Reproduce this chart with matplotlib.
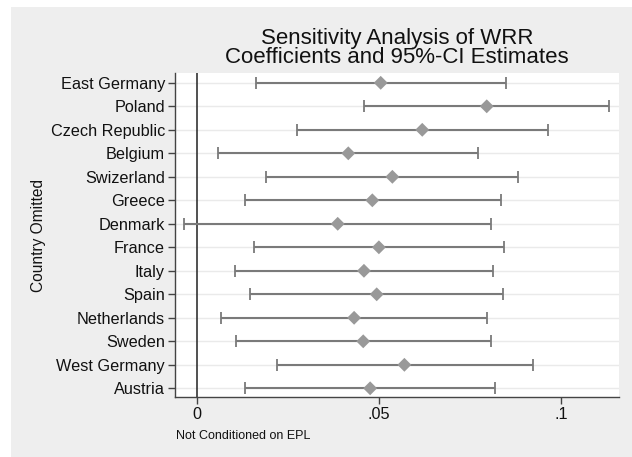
import matplotlib
matplotlib.use("Agg")
import matplotlib.pyplot as plt
from matplotlib.patches import Rectangle

countries = ["East Germany", "Poland", "Czech Republic", "Belgium", "Swizerland",
             "Greece", "Denmark", "France", "Italy", "Spain", "Netherlands",
             "Sweden", "West Germany", "Austria"]
coef = [0.0505, 0.0796, 0.0619, 0.0416, 0.0537, 0.0482, 0.0387, 0.0500,
        0.0459, 0.0494, 0.0432, 0.0457, 0.0570, 0.0476]
ci_low = [0.0162, 0.0460, 0.0275, 0.0058, 0.0190, 0.0133, -0.0034, 0.0158,
          0.0105, 0.0147, 0.0067, 0.0109, 0.0221, 0.0132]
ci_high = [0.0849, 0.1132, 0.0965, 0.0773, 0.0883, 0.0834, 0.0808, 0.0844,
           0.0814, 0.0842, 0.0798, 0.0808, 0.0922, 0.0820]
xticks = [0, 0.05, 0.1]
xticklabels = ["0", ".05", ".1"]

plt.rcParams['font.family'] = ['Liberation Sans', 'DejaVu Sans']

W, H = 632, 457
fig = plt.figure(figsize=(W / 100, H / 100), dpi=100, facecolor="white")
fig.patches.append(Rectangle((11 / W, 0), 1 - 11 / W, 1 - 7 / H,
                             transform=fig.transFigure, facecolor="#eeeeee",
                             edgecolor="none", zorder=-10))

ax = fig.add_axes([174.7 / W, 1 - 397.3 / H, (619 - 174.7) / W, (397.3 - 72.7) / H])
ax.set_zorder(5)
ax.set_facecolor("white")

n = len(countries)
ys = [n - i for i in range(n)]

for y in ys:
    ax.axhline(y, color="#eaeaea", lw=1.0, zorder=1)

ax.axvline(0, color="#222222", lw=1.1, zorder=2)

ax.errorbar(coef, ys, xerr=[[c - l for c, l in zip(coef, ci_low)],
                            [h - c for c, h in zip(coef, ci_high)]],
            fmt="none", ecolor="#7a7a7a", elinewidth=1.5, capsize=4,
            capthick=1.3, zorder=3)
ax.scatter(coef, ys, marker="D", s=50, color="#999999", edgecolors="none", zorder=4)

ax.set_xlim(-0.00604, 0.1159)
ax.set_ylim(0.617, 14.43)
ax.set_yticks(ys)
ax.set_yticklabels(countries, fontsize=11.7, color="#111111")
ax.set_xticks(xticks)
ax.set_xticklabels(xticklabels, fontsize=11.7, color="#111111")

for s in ["top", "right"]:
    ax.spines[s].set_visible(False)
for s in ["left", "bottom"]:
    ax.spines[s].set_color("#444444")
    ax.spines[s].set_linewidth(1.0)
ax.tick_params(axis="both", direction="out", length=5, width=1.0, color="#444444", pad=2)

fig.text(38 / W, 1 - 235 / H, "Country Omitted", fontsize=11.2, color="#111111",
         rotation=90, ha="center", va="center")
fig.text(176 / W, 1 - 436 / H, "Not Conditioned on EPL", fontsize=9,
         color="#111111", ha="left", va="center")

fig.text(397 / W, 1 - 48 / H, "Sensitivity Analysis of WRR\nCoefficients and 95%-CI Estimates",
         fontsize=16, ha="center", va="center", color="#111111", linespacing=0.9)

fig.savefig("out.png", dpi=100, facecolor=fig.get_facecolor())
